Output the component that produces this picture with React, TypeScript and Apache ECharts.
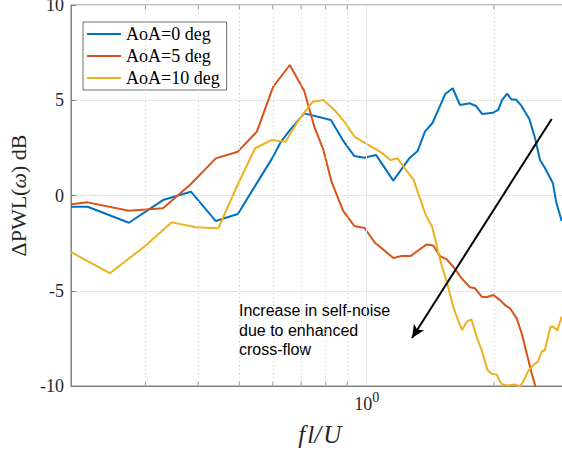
import React, { useEffect, useRef } from 'react';
import * as echarts from 'echarts';

// f l / U (log axis) and Delta PWL (dB)
const aoa0X = [0.200, 0.219, 0.274, 0.330, 0.384, 0.440, 0.496, 0.601, 0.627, 0.659, 0.712, 0.823, 0.878, 0.935, 0.987, 1.052, 1.156, 1.261, 1.320, 1.373, 1.432, 1.534, 1.597, 1.662, 1.755, 1.813, 1.874, 1.989, 2.047, 2.089, 2.147, 2.200, 2.254, 2.323, 2.424, 2.500, 2.569, 2.639, 2.756, 2.810, 2.891];
const aoa0Y = [-0.59, -0.59, -1.43, -0.24, 0.20, -1.34, -0.97, 2.04, 2.82, 3.44, 4.31, 3.96, 2.91, 2.07, 1.98, 2.13, 0.78, 1.95, 2.34, 3.35, 3.82, 5.33, 5.63, 4.75, 4.84, 4.70, 4.28, 4.35, 4.49, 5.01, 5.35, 5.04, 5.04, 4.70, 4.02, 3.02, 1.86, 1.44, 0.64, -0.41, -1.34];

const aoa5X = [0.200, 0.219, 0.274, 0.330, 0.382, 0.440, 0.496, 0.550, 0.601, 0.658, 0.712, 0.752, 0.790, 0.826, 0.880, 0.935, 0.989, 1.046, 1.094, 1.156, 1.210, 1.269, 1.385, 1.437, 1.490, 1.546, 1.602, 1.677, 1.755, 1.803, 1.870, 1.921, 1.992, 2.067, 2.123, 2.182, 2.263, 2.325, 2.389, 2.455, 2.500, 2.510];
const aoa5Y = [-0.46, -0.36, -0.80, -0.67, 0.55, 1.95, 2.30, 3.35, 5.70, 6.85, 5.49, 3.61, 2.39, 0.72, -0.81, -1.60, -1.71, -2.48, -2.83, -3.28, -3.18, -3.18, -2.57, -2.62, -3.18, -3.35, -3.74, -4.35, -4.82, -4.87, -5.31, -5.34, -5.22, -5.49, -5.75, -5.92, -6.45, -7.23, -8.28, -9.33, -9.95, -10.05];

const aoa10X = [0.200, 0.247, 0.298, 0.346, 0.395, 0.446, 0.493, 0.545, 0.596, 0.643, 0.684, 0.715, 0.745, 0.790, 0.839, 0.886, 0.938, 1.002, 1.084, 1.138, 1.184, 1.227, 1.292, 1.327, 1.381, 1.428, 1.454, 1.478, 1.504, 1.546, 1.602, 1.637, 1.680, 1.726, 1.769, 1.823, 1.870, 1.930, 1.978, 2.029, 2.083, 2.158, 2.242, 2.298, 2.342, 2.413, 2.477, 2.541, 2.593, 2.639, 2.720, 2.764, 2.822, 2.891];
const aoa10Y = [-2.97, -4.08, -2.69, -1.41, -1.67, -1.72, 0.46, 2.48, 2.91, 2.82, 3.81, 4.40, 4.92, 5.01, 4.49, 3.87, 3.06, 2.70, 2.25, 1.86, 1.94, 1.47, 0.81, 0.03, -1.05, -1.64, -2.34, -3.04, -3.65, -4.52, -5.84, -6.43, -7.06, -6.61, -6.51, -7.48, -8.11, -9.16, -9.37, -9.40, -9.90, -9.97, -9.92, -10.03, -9.79, -9.19, -8.90, -8.72, -8.19, -8.11, -6.88, -6.89, -7.09, -6.36];

const seriesNames = ['AoA=0 deg', 'AoA=5 deg', 'AoA=10 deg'];
const seriesColors = ['#0072BD', '#D95319', '#EDB120'];

const minorGridX = [0.3, 0.4, 0.5, 0.6, 0.7, 0.8, 0.9, 2, 3];
const majorGridX = [1];

const arrowStart = [2.738, 4.02];
const arrowEnd = [1.28, -7.48];

const annotationText = 'Increase in self-noise\ndue to enhanced\ncross-flow';

const SERIF = '"Liberation Serif", "DejaVu Serif", "Times New Roman", serif';
const SANS = '"Liberation Sans", Arial, Helvetica, sans-serif';
const AXIS_GRAY = '#7f7f7f';

export default function App() {
  const ref = useRef<HTMLDivElement>(null);

  useEffect(() => {
    document.body.style.margin = '0';
    const chart = echarts.init(ref.current as HTMLDivElement, null, { renderer: 'svg' });

    const pairs = (xs: number[], ys: number[]) => xs.map((x, i) => [x, ys[i]]);
    const lineData = [pairs(aoa0X, aoa0Y), pairs(aoa5X, aoa5Y), pairs(aoa10X, aoa10Y)];

    const minorTicks: any[] = [];
    minorGridX.forEach((x) => {
      minorTicks.push({ value: [x, -10], symbolOffset: [0, -2] });
      minorTicks.push({ value: [x, 10], symbolOffset: [0, 2] });
    });

    const option: any = {
      animation: false,
      grid: {
        left: 71,
        top: 5,
        width: 497.5,
        height: 381,
        outerBoundsMode: 'none',
        containLabel: false,
        show: true,
        borderColor: AXIS_GRAY,
        borderWidth: 1,
        backgroundColor: 'transparent',
      },
      legend: {
        data: seriesNames,
        orient: 'vertical',
        left: 83,
        top: 22,
        icon: 'rect',
        itemWidth: 34,
        itemHeight: 2,
        itemGap: 4,
        padding: [3, 7, 3, 4],
        backgroundColor: '#ffffff',
        borderColor: '#6e6e6e',
        borderWidth: 1,
        textStyle: { fontSize: 18, fontFamily: SERIF, color: '#000', lineHeight: 18 },
      },
      xAxis: {
        type: 'log',
        logBase: 10,
        min: 0.2,
        max: 3,
        axisLine: { show: true, onZero: false, lineStyle: { color: AXIS_GRAY } },
        axisTick: { show: true, inside: true, length: 5, lineStyle: { color: AXIS_GRAY } },
        splitLine: { show: false },
        axisLabel: {
          showMinLabel: false,
          showMaxLabel: false,
          margin: 4,
          formatter: (v: number) => (Math.abs(v - 1) < 1e-6 ? '{b|10}{s|0}' : ''),
          rich: {
            b: { fontSize: 18, fontFamily: SERIF, color: '#262626' },
            s: { fontSize: 14, fontFamily: SERIF, color: '#262626', padding: [0, 0, 14, 0] },
          },
        },
        name: 'f\u200Al/\u200AU',
        nameLocation: 'middle',
        nameGap: 36,
        nameTextStyle: { fontSize: 25, fontFamily: SERIF, fontStyle: 'italic', color: '#262626' },
      },
      yAxis: {
        type: 'value',
        min: -10,
        max: 10,
        interval: 5,
        axisLine: { show: true, lineStyle: { color: AXIS_GRAY } },
        axisTick: { show: true, inside: true, length: 5, lineStyle: { color: AXIS_GRAY } },
        splitLine: { show: true, lineStyle: { color: '#e6e6e6', width: 1 } },
        axisLabel: { fontSize: 18, fontFamily: SERIF, color: '#262626', margin: 7 },
        name: '{n|ΔPWL(}{i|ω}{n|) dB}',
        nameLocation: 'middle',
        nameGap: 38,
        nameTextStyle: {
          rich: {
            n: { fontSize: 22, fontFamily: SERIF, color: '#262626' },
            i: { fontSize: 22, fontFamily: SERIF, fontStyle: 'italic', color: '#262626' },
          },
        },
      },
      series: [
        {
          type: 'line',
          name: 'gridX',
          data: [],
          silent: true,
          z: 1,
          markLine: {
            silent: true,
            symbol: ['none', 'none'],
            label: { show: false },
            data: [
              ...minorGridX.map((v) => ({ xAxis: v, lineStyle: { type: [1, 3], color: '#c8c8c8', width: 1 } })),
              ...majorGridX.map((v) => ({ xAxis: v, lineStyle: { type: 'solid', color: '#e6e6e6', width: 1 } })),
            ],
          },
        },
        {
          type: 'scatter',
          name: 'minorTicks',
          data: minorTicks,
          symbol: 'rect',
          symbolSize: [1, 4],
          itemStyle: { color: AXIS_GRAY },
          silent: true,
          clip: false,
          z: 2,
        },
        ...seriesNames.map((name, i) => ({
          type: 'line',
          name,
          data: lineData[i],
          symbol: 'none',
          showSymbol: false,
          clip: true,
          z: 3,
          lineStyle: { width: 2, color: seriesColors[i] },
          itemStyle: { color: seriesColors[i] },
        })),
        {
          type: 'line',
          name: 'arrow',
          data: [],
          silent: true,
          z: 4,
          markLine: {
            silent: true,
            symbol: ['none', 'arrow'],
            symbolSize: [9, 13],
            label: { show: false },
            lineStyle: { color: '#000', width: 2, type: 'solid' },
            data: [[{ coord: arrowStart }, { coord: arrowEnd }]],
          },
        },
      ],
      graphic: [
        {
          type: 'text',
          left: 239,
          top: 301,
          style: {
            text: annotationText,
            fontSize: 16,
            fontFamily: SANS,
            lineHeight: 19.5,
            fill: '#000',
          },
        },
      ],
    };

    chart.setOption(option);
    return () => chart.dispose();
  }, []);

  return <div ref={ref} style={{ width: 562, height: 454 }} />;
}
